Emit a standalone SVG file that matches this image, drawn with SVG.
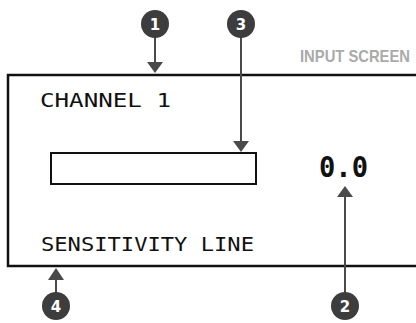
<svg xmlns="http://www.w3.org/2000/svg" width="416" height="323" viewBox="0 0 416 323">
<defs>
<style>
.lcd{font-family:"DejaVu Sans Mono","Liberation Mono",monospace;fill:#111;}
.badge circle{fill:#3d3d3d;}
.badge text{font-family:"DejaVu Sans","Liberation Sans",Arial,sans-serif;font-weight:bold;font-size:15px;fill:#fff;text-anchor:middle;}
.conn line{stroke:#4a4a4a;stroke-width:2;}
.conn polygon{fill:#4a4a4a;}
</style>
</defs>
<rect width="416" height="323" fill="#fff"/>
<g id="screen">
<rect x="8" y="75" width="430" height="191" fill="none" stroke="#111" stroke-width="2.5"/>
<text transform="translate(300,62) scale(1,1.13)" x="0" y="0" font-family="Liberation Sans,Arial,sans-serif" font-weight="bold" font-size="15" fill="#aaaaaa" textLength="110" lengthAdjust="spacingAndGlyphs">INPUT SCREEN</text>
</g>
<g id="channel-label"><text class="lcd" x="40" y="107" font-size="19" textLength="131" lengthAdjust="spacingAndGlyphs">CHANNEL 1</text></g>
<g id="level-bar"><rect x="51" y="153" width="205" height="31" fill="none" stroke="#111" stroke-width="2"/></g>
<g id="value"><text class="lcd" x="319" y="177" font-size="28" font-weight="bold" textLength="49" lengthAdjust="spacingAndGlyphs">0.0</text></g>
<g id="sensitivity-label"><text class="lcd" x="41" y="251" font-size="19" textLength="213" lengthAdjust="spacingAndGlyphs">SENSITIVITY LINE</text></g>
<g id="connectors" class="conn">
<line x1="155" y1="36" x2="155" y2="63"/>
<polygon points="147,62 163,62 155,73"/>
<line x1="241" y1="36" x2="241" y2="142"/>
<polygon points="233,141 249,141 241,152"/>
<line x1="345" y1="294" x2="345" y2="196"/>
<polygon points="337,197 353,197 345,186"/>
<line x1="56" y1="294" x2="56" y2="279"/>
<polygon points="48,280 64,280 56,268"/>
</g>
<g id="badge-1" class="badge"><circle cx="155" cy="24" r="14"/><text x="155" y="30">1</text></g>
<g id="badge-3" class="badge"><circle cx="241" cy="24" r="14"/><text x="241" y="30">3</text></g>
<g id="badge-2" class="badge"><circle cx="345" cy="306" r="14"/><text x="345" y="312">2</text></g>
<g id="badge-4" class="badge"><circle cx="56" cy="306" r="14"/><text x="56" y="312">4</text></g>
</svg>
